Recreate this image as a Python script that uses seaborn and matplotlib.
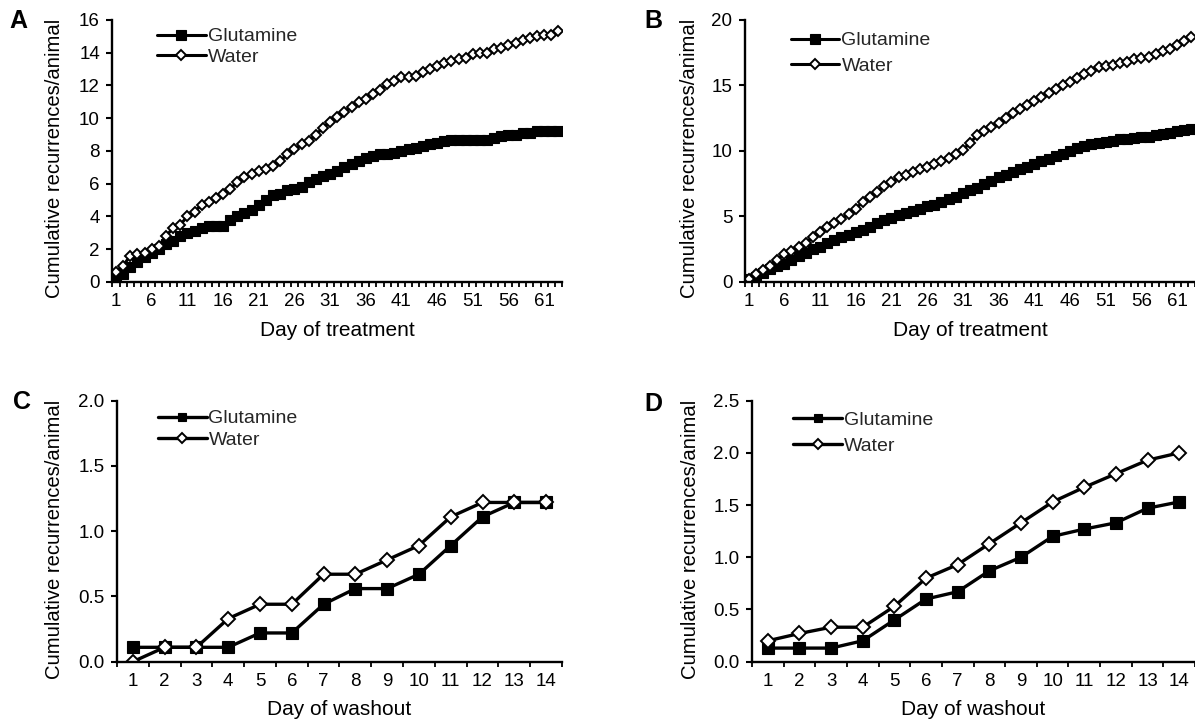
import pandas as pd
import seaborn as sns
import matplotlib
matplotlib.use('agg')
import matplotlib.pyplot as plt
from matplotlib.ticker import FixedLocator, FormatStrFormatter

# ---- data ----
days_treat = list(range(1, 64))
days_wash = list(range(1, 15))

a_glutamine = [0.2, 0.5, 0.9, 1.2, 1.5, 1.8, 2.0, 2.3, 2.5, 2.8, 3.0, 3.1, 3.3, 3.4, 3.4, 3.4,
               3.8, 4.0, 4.2, 4.4, 4.7, 5.0, 5.3, 5.4, 5.6, 5.7, 5.8, 6.1, 6.3, 6.5, 6.6, 6.8,
               7.0, 7.2, 7.4, 7.6, 7.7, 7.8, 7.8, 7.9, 8.0, 8.1, 8.2, 8.3, 8.4, 8.5, 8.6, 8.7,
               8.7, 8.7, 8.7, 8.7, 8.7, 8.8, 8.9, 9.0, 9.0, 9.1, 9.1, 9.2, 9.2, 9.2, 9.2]
a_water = [0.6, 1.0, 1.6, 1.7, 1.8, 2.0, 2.2, 2.8, 3.3, 3.5, 4.0, 4.3, 4.7, 4.9, 5.1, 5.4,
           5.7, 6.1, 6.4, 6.6, 6.8, 6.9, 7.1, 7.4, 7.8, 8.1, 8.4, 8.6, 9.0, 9.4, 9.8, 10.1,
           10.4, 10.7, 11.0, 11.2, 11.5, 11.7, 12.1, 12.3, 12.5, 12.5, 12.6, 12.8, 13.0, 13.2,
           13.4, 13.5, 13.6, 13.7, 13.9, 14.0, 14.0, 14.2, 14.3, 14.5, 14.6, 14.8, 14.9, 15.0,
           15.1, 15.1, 15.3]

b_glutamine = [0.2, 0.4, 0.7, 1.0, 1.2, 1.4, 1.7, 2.0, 2.2, 2.5, 2.7, 3.0, 3.2, 3.4, 3.6, 3.8,
               4.0, 4.2, 4.5, 4.7, 4.9, 5.1, 5.3, 5.4, 5.6, 5.8, 5.9, 6.1, 6.3, 6.5, 6.8, 7.0,
               7.2, 7.5, 7.7, 8.0, 8.2, 8.4, 8.6, 8.8, 9.0, 9.2, 9.4, 9.6, 9.8, 10.0, 10.2, 10.4,
               10.5, 10.6, 10.7, 10.8, 10.9, 10.95, 11.0, 11.05, 11.1, 11.2, 11.3, 11.4, 11.5,
               11.6, 11.7]
b_water = [0.25, 0.6, 0.9, 1.2, 1.7, 2.1, 2.4, 2.7, 3.0, 3.4, 3.8, 4.2, 4.5, 4.8, 5.2, 5.6,
           6.1, 6.5, 6.9, 7.3, 7.6, 8.0, 8.2, 8.4, 8.6, 8.8, 9.0, 9.2, 9.5, 9.8, 10.1, 10.6,
           11.2, 11.5, 11.8, 12.1, 12.5, 12.9, 13.2, 13.5, 13.8, 14.1, 14.4, 14.7, 15.0, 15.3,
           15.6, 15.9, 16.1, 16.4, 16.5, 16.6, 16.7, 16.8, 17.0, 17.1, 17.2, 17.4, 17.6, 17.8,
           18.1, 18.4, 18.7]

c_glutamine = [0.11, 0.11, 0.11, 0.11, 0.22, 0.22, 0.44, 0.56, 0.56, 0.67, 0.89, 1.11, 1.22, 1.22]
c_water = [0.0, 0.11, 0.11, 0.33, 0.44, 0.44, 0.67, 0.67, 0.78, 0.89, 1.11, 1.22, 1.22, 1.22]

d_glutamine = [0.13, 0.13, 0.13, 0.2, 0.4, 0.6, 0.67, 0.87, 1.0, 1.2, 1.27, 1.33, 1.47, 1.53]
d_water = [0.2, 0.27, 0.33, 0.33, 0.53, 0.8, 0.93, 1.13, 1.33, 1.53, 1.67, 1.8, 1.93, 2.0]

sns.set_theme(style="ticks")
plt.rcParams['font.family'] = ['Liberation Sans', 'DejaVu Sans']

fig = plt.figure(figsize=(11.95, 7.24), dpi=100)


def draw_panel(ax, days, glut, water, ymax, ystep, yfmt, xlabel, label_every,
               sq_size, d_size, lw, leg_xy, leg_spacing, leg_scale, ylab_x, xlab_y):
    df = pd.DataFrame({'Day': days, 'Glutamine': glut, 'Water': water})
    sns.lineplot(data=df, x='Day', y='Glutamine', ax=ax, color='black', lw=lw,
                 marker='s', markersize=sq_size, markerfacecolor='black',
                 markeredgecolor='black', markeredgewidth=0.8, label='Glutamine')
    sns.lineplot(data=df, x='Day', y='Water', ax=ax, color='black', lw=lw,
                 marker='D', markersize=d_size, markerfacecolor='white',
                 markeredgecolor='black', markeredgewidth=1.4, label='Water')

    n = len(days)
    ax.set_xlim(0.5, n + 0.5)
    ax.set_ylim(0, ymax)
    sns.despine(ax=ax)
    for sp in ('left', 'bottom'):
        ax.spines[sp].set_linewidth(1.7)
        ax.spines[sp].set_color('black')

    # category style axis: labels at centres, tick marks at boundaries
    ax.xaxis.set_major_locator(FixedLocator(days[::label_every]))
    ax.xaxis.set_minor_locator(FixedLocator([d + 0.5 for d in [0] + days]))
    ax.tick_params(axis='x', which='major', length=0, pad=8, labelsize=13.5, colors='black')
    ax.tick_params(axis='x', which='minor', length=3.5, width=1.3, direction='out', color='black')
    yt = [i * ystep for i in range(int(round(ymax / ystep)) + 1)]
    ax.yaxis.set_major_locator(FixedLocator(yt))
    ax.yaxis.set_major_formatter(FormatStrFormatter(yfmt))
    ax.tick_params(axis='y', length=4, width=1.5, pad=5, labelsize=13.5, colors='black')

    ax.set_xlabel(xlabel, fontsize=15, color='black')
    ax.set_ylabel('Cumulative recurrences/animal', fontsize=14.6, color='black')
    ax.yaxis.set_label_coords(ylab_x, 0.47)
    ax.xaxis.set_label_coords(0.5, xlab_y)

    ax.legend(loc='upper left', bbox_to_anchor=leg_xy, frameon=False, fontsize=14,
              handlelength=2.5, handletextpad=0.1, borderpad=0, borderaxespad=0,
              labelspacing=leg_spacing, markerscale=leg_scale)


ax_a = fig.add_axes([0.0941, 0.6105, 0.3762, 0.3619])
ax_b = fig.add_axes([0.6234, 0.6105, 0.3766, 0.3619])
ax_c = fig.add_axes([0.0979, 0.0861, 0.3724, 0.3605])
ax_d = fig.add_axes([0.6293, 0.0861, 0.3707, 0.3605])

draw_panel(ax_a, days_treat, a_glutamine, a_water, 16, 2, '%d', 'Day of treatment', 5,
           7.0, 5.2, 2.2, (0.099, 0.97), 0.15, 1.0, -0.108, -0.15)
draw_panel(ax_b, days_treat, b_glutamine, b_water, 20, 5, '%d', 'Day of treatment', 5,
           7.0, 5.2, 2.2, (0.102, 0.955), 0.4, 1.0, -0.103, -0.15)
draw_panel(ax_c, days_wash, c_glutamine, c_water, 2.0, 0.5, '%.1f', 'Day of washout', 1,
           8.0, 6.8, 2.4, (0.092, 0.965), 0.2, 0.75, -0.118, -0.145)
draw_panel(ax_d, days_wash, d_glutamine, d_water, 2.5, 0.5, '%.1f', 'Day of washout', 1,
           8.0, 6.8, 2.4, (0.093, 0.958), 0.4, 0.75, -0.118, -0.145)

for letter, x, y in [('A', 18, 21), ('B', 653, 21), ('C', 22, 402), ('D', 653, 404)]:
    fig.text(x / 1195, 1 - y / 724, letter, fontsize=18, fontweight='heavy',
             ha='center', va='center', color='black')

fig.savefig('out.png', dpi=100)
